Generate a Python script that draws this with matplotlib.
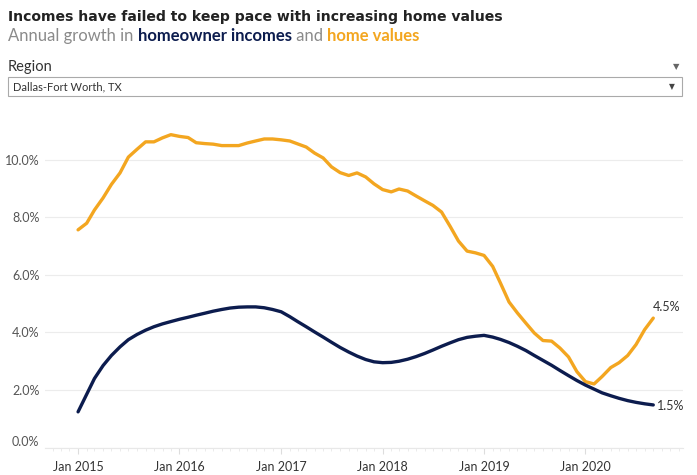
import matplotlib
matplotlib.use("Agg")
import matplotlib.pyplot as plt
import matplotlib.dates as mdates
import pandas as pd

# monthly data, Jan 2015 - Sep 2020
home_values = [7.57, 7.8, 8.26, 8.68, 9.15, 9.55, 10.1, 10.37, 10.63, 10.63,
               10.77, 10.88, 10.82, 10.78, 10.6, 10.57, 10.55, 10.5, 10.5, 10.5,
               10.59, 10.66, 10.73, 10.73, 10.7, 10.66, 10.56, 10.45, 10.24, 10.07,
               9.76, 9.56, 9.46, 9.55, 9.41, 9.17, 8.97, 8.89, 8.99, 8.92,
               8.75, 8.58, 8.42, 8.19, 7.69, 7.18, 6.83, 6.77, 6.68, 6.3,
               5.72, 5.06, 4.68, 4.32, 3.98, 3.72, 3.7, 3.46, 3.15, 2.64,
               2.29, 2.21, 2.47, 2.78, 2.95, 3.2, 3.58, 4.1, 4.5]
incomes = [1.24, 1.85, 2.4, 2.85, 3.2, 3.5, 3.75, 3.93, 4.08, 4.2,
           4.3, 4.38, 4.46, 4.53, 4.6, 4.67, 4.74, 4.8, 4.85, 4.88,
           4.89, 4.89, 4.86, 4.8, 4.72, 4.55, 4.38, 4.2, 4.02, 3.84,
           3.66, 3.48, 3.32, 3.18, 3.06, 2.98, 2.95, 2.96, 3.0, 3.07,
           3.16, 3.27, 3.39, 3.52, 3.64, 3.75, 3.83, 3.87, 3.9, 3.84,
           3.76, 3.65, 3.52, 3.37, 3.2, 3.03, 2.86, 2.68, 2.5, 2.33,
           2.17, 2.03, 1.9, 1.8, 1.71, 1.63, 1.57, 1.52, 1.48]
dates = pd.date_range("2015-01-01", periods=len(incomes), freq="MS")
years = ["2015", "2016", "2017", "2018", "2019", "2020"]
y_ticks = [0, 2, 4, 6, 8, 10]

orange = "#F3A620"
navy = "#0C1C4E"
plt.rcParams["font.family"] = ["Lato", "DejaVu Sans"]

fig = plt.figure(figsize=(6.97, 4.75), dpi=100)
W, H = 697, 475

def fx(px):
    return px / W

def fy(py):
    return 1 - py / H

fig.canvas.draw()
r = fig.canvas.get_renderer()

# header
title = fig.text(fx(8), fy(17), "Incomes have failed to keep pace with increasing home values",
                 fontsize=10, fontweight="bold", color="#222222", va="center",
                 family=["DejaVu Sans"])
# fit title to the width it has in the original (~495px)
tw = title.get_window_extent(renderer=r).width
title.set_fontsize(10 * 495 / tw)

parts = [("Annual growth in ", "#8a8a8a", "normal"),
         ("homeowner incomes", navy, "bold"),
         (" and ", "#8a8a8a", "normal"),
         ("home values", orange, "bold")]
x = fx(8)
for s, c, w in parts:
    t = fig.text(x, fy(36), s, fontsize=12, color=c, fontweight=w, va="center")
    bb = t.get_window_extent(renderer=r)
    x += bb.width / W

fig.text(fx(8), fy(67), "Region", fontsize=10.5, color="#333333", va="center")
fig.text(fx(676), fy(67), "\u25BC", fontsize=6, color="#666666", va="center", ha="center")
box = plt.Rectangle((fx(8), fy(96)), fx(674), 19 / H, transform=fig.transFigure,
                    fill=False, edgecolor="#aaaaaa", linewidth=0.8)
fig.add_artist(box)
fig.text(fx(13), fy(87), "Dallas-Fort Worth, TX", fontsize=8, color="#333333", va="center")
fig.text(fx(672), fy(87), "\u25BC", fontsize=5.5, color="#444444", va="center", ha="center")

# chart
ax = fig.add_axes([fx(45), fy(447.5), fx(683 - 45), (447.5 - 120) / H])
ax.plot(dates, home_values, color=orange, linewidth=2.4, solid_capstyle="round")
ax.plot(dates, incomes, color=navy, linewidth=2.4, solid_capstyle="round")

ax.set_ylim(0, 11.39)
ax.set_xlim(pd.Timestamp("2014-09-04"), pd.Timestamp("2020-12-17"))
ax.set_yticks(y_ticks)
ax.set_yticklabels(["%.1f%%" % v for v in y_ticks])
ax.grid(axis="y", color="#ececec", linewidth=0.8)
ax.set_axisbelow(True)

ax.set_xticks([pd.Timestamp(y + "-01-01") for y in years])
ax.set_xticklabels(["Jan " + y for y in years])
ax.xaxis.set_minor_locator(mdates.MonthLocator())

for s in ["top", "right", "left"]:
    ax.spines[s].set_visible(False)
ax.spines["bottom"].set_color("#e8e8e8")
ax.spines["bottom"].set_linewidth(0.8)
ax.tick_params(axis="y", length=0, pad=4, labelsize=9, labelcolor="#555555")
ax.tick_params(axis="x", which="major", length=4, color="#dddddd", pad=6,
               labelsize=9, labelcolor="#333333")
ax.tick_params(axis="x", which="minor", length=2, color="#e8e8e8")
for lab in ax.get_yticklabels():
    if lab.get_text() == "0.0%":
        lab.set_va("bottom")

ax.annotate("%.1f%%" % home_values[-1], (dates[-1], home_values[-1]),
            xytext=(0, 4), textcoords="offset points", fontsize=9,
            color="#333333", ha="left", va="bottom")
ax.annotate("%.1f%%" % incomes[-1], (dates[-1], incomes[-1]),
            xytext=(3, -1), textcoords="offset points", fontsize=9,
            color="#333333", ha="left", va="center")

fig.savefig("out.png", dpi=100)
